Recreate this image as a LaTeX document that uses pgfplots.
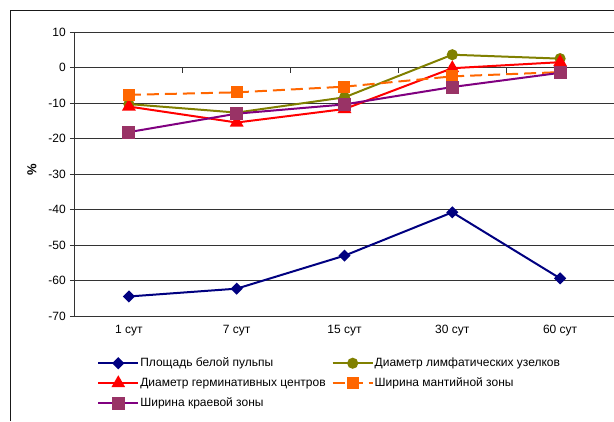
\documentclass[border=0pt]{standalone}
\usepackage{pgfplots}
\pgfplotsset{compat=1.18}
\usepackage{fontspec}
\setmainfont{Liberation Sans}
\definecolor{cnavy}{RGB}{0,0,128}
\definecolor{colive}{RGB}{128,128,0}
\definecolor{cred}{RGB}{255,0,0}
\definecolor{corange}{RGB}{255,102,0}
\definecolor{cpurple}{RGB}{128,0,128}
\definecolor{cplum}{RGB}{153,51,102}
\begin{document}
\fontsize{12pt}{14pt}\selectfont
\begin{tikzpicture}
\path[use as bounding box] (0,0) rectangle (614pt,421pt);
\draw[black!90, line width=0.9pt] (10pt,0pt) -- (10pt,411pt) -- (614pt,411pt);
\begin{axis}[
  at={(75pt,105pt)}, anchor=south west,
  scale only axis, width=539pt, height=284pt,
  xmin=-0.5, xmax=4.5, ymin=-70, ymax=10,
  xtick={0,1,2,3,4},
  xticklabels={1 сут,7 сут,15 сут,30 сут,60 сут},
  ytick={-70,-60,...,10},
  axis y line*=left, axis x line*=bottom,
  x axis line style={draw=none},
  y axis line style={black!80, line width=1pt},
  major x tick style={draw=none},
  major y tick style={black!80, line width=1pt},
  tick align=outside, major tick length=5pt,
  ymajorgrids, grid style={black!80, line width=1pt},
  /pgf/number format/assume math mode=true,
  tick label style={font=\fontsize{12pt}{14pt}\selectfont},
  ylabel={\fontsize{13pt}{14pt}\selectfont\textbf{\%}},
  ylabel style={at={(axis description cs:-0.08,0.514)}, anchor=center},
  clip=false,
  legend columns=2,
  legend cell align=left,
  legend style={at={(0.041,-0.141)}, anchor=north west, draw=none, inner sep=0pt,
    font=\fontsize{12pt}{14pt}\selectfont,
    nodes={inner sep=1pt, text height=9pt, text depth=3pt},
    row sep=6pt,
    /tikz/every even column/.append style={column sep=5pt}},
  legend image code/.code={\draw[mark repeat=2,mark phase=2,#1] plot coordinates {(0pt,0pt) (20pt,0pt) (40pt,0pt)};},
]
\pgfplotsinvokeforeach{0.5,1.5,2.5,3.5}{
  \draw[black!80, line width=1pt] (axis cs:#1,0) -- ([yshift=-5pt]axis cs:#1,0);
}
\addplot[cnavy, line width=2pt, mark=square*, mark options={rotate=45, solid, fill=cnavy}, mark size=3.3pt]
  coordinates {(0,-64.5) (1,-62.3) (2,-53) (3,-40.8) (4,-59.4)};
\addlegendentry{Площадь белой пульпы}
\addplot[colive, line width=2pt, mark=*, mark options={solid, fill=colive}, mark size=4.5pt]
  coordinates {(0,-10.3) (1,-12.7) (2,-8.4) (3,3.6) (4,2.5)};
\addlegendentry{Диаметр лимфатических узелков}
\addplot[cred, line width=2pt, mark=triangle*, mark options={solid, fill=cred}, mark size=6pt]
  coordinates {(0,-11) (1,-15.5) (2,-11.7) (3,-0.2) (4,1.5)};
\addlegendentry{Диаметр герминативных центров}
\addplot[corange, line width=2pt, dash pattern=on 12pt off 6pt, mark=square*, mark options={solid, fill=corange}, mark size=5pt]
  coordinates {(0,-7.7) (1,-7.0) (2,-5.4) (3,-2.5) (4,-1.3)};
\addlegendentry{Ширина мантийной зоны}
\addplot[cpurple, line width=2pt, mark=square*, mark options={solid, draw=cplum, fill=cplum}, mark size=5.5pt]
  coordinates {(0,-18.2) (1,-13) (2,-10.4) (3,-5.5) (4,-1.5)};
\addlegendentry{Ширина краевой зоны}
\end{axis}
\end{tikzpicture}
\end{document}
